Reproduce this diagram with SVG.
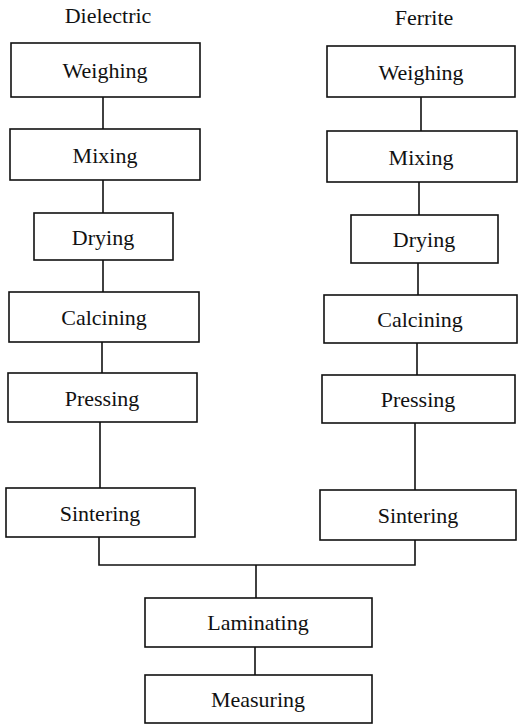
<svg xmlns="http://www.w3.org/2000/svg" width="523" height="726" viewBox="0 0 523 726">
<style>
rect{fill:#fff;stroke:#111;stroke-width:1.6}
text{font-family:'Liberation Serif','Times New Roman',Tinos,'Nimbus Roman','Nimbus Roman No9 L','FreeSerif','DejaVu Serif','Noto Serif',Georgia,serif;font-size:22px;fill:#111;text-anchor:middle}
.c line,.c polyline{stroke:#111;stroke-width:1.6;fill:none}
</style>
<rect x="0" y="0" width="523" height="726" style="fill:#fff;stroke:none"/>
<text x="108" y="23">Dielectric</text>
<text x="424" y="25">Ferrite</text>
<g class="c" id="connectors">
<line x1="103" y1="97" x2="103" y2="129"/>
<line x1="103" y1="180" x2="103" y2="213"/>
<line x1="103" y1="260" x2="103" y2="292"/>
<line x1="102" y1="342" x2="102" y2="373"/>
<line x1="100" y1="422" x2="100" y2="488"/>
<line x1="421" y1="97" x2="421" y2="131"/>
<line x1="419" y1="182" x2="419" y2="215"/>
<line x1="418" y1="263" x2="418" y2="295"/>
<line x1="417" y1="343" x2="417" y2="375"/>
<line x1="415" y1="423" x2="415" y2="490"/>
<polyline points="99,537 99,565 415,565 415,540"/>
<line x1="256" y1="565" x2="256" y2="598"/>
<line x1="255" y1="647" x2="255" y2="675"/>
</g>
<g id="d-weighing"><rect x="11" y="43" width="189" height="54"/><text x="105" y="78">Weighing</text></g>
<g id="d-mixing"><rect x="10" y="129" width="190" height="51"/><text x="105" y="163">Mixing</text></g>
<g id="d-drying"><rect x="34" y="213" width="139" height="47"/><text x="103" y="245">Drying</text></g>
<g id="d-calcining"><rect x="9" y="292" width="190" height="50"/><text x="104" y="325">Calcining</text></g>
<g id="d-pressing"><rect x="8" y="373" width="189" height="49"/><text x="102" y="406">Pressing</text></g>
<g id="d-sintering"><rect x="6" y="488" width="189" height="49"/><text x="100" y="521">Sintering</text></g>
<g id="f-weighing"><rect x="327" y="46" width="188" height="51"/><text x="421" y="80">Weighing</text></g>
<g id="f-mixing"><rect x="327" y="131" width="190" height="51"/><text x="421" y="165">Mixing</text></g>
<g id="f-drying"><rect x="351" y="215" width="147" height="48"/><text x="424" y="247">Drying</text></g>
<g id="f-calcining"><rect x="324" y="295" width="193" height="48"/><text x="420" y="327">Calcining</text></g>
<g id="f-pressing"><rect x="322" y="375" width="193" height="48"/><text x="418" y="407">Pressing</text></g>
<g id="f-sintering"><rect x="320" y="490" width="196" height="50"/><text x="418" y="523">Sintering</text></g>
<g id="laminating"><rect x="145" y="598" width="227" height="49"/><text x="258" y="630">Laminating</text></g>
<g id="measuring"><rect x="145" y="675" width="227" height="48"/><text x="258" y="707">Measuring</text></g>
</svg>
